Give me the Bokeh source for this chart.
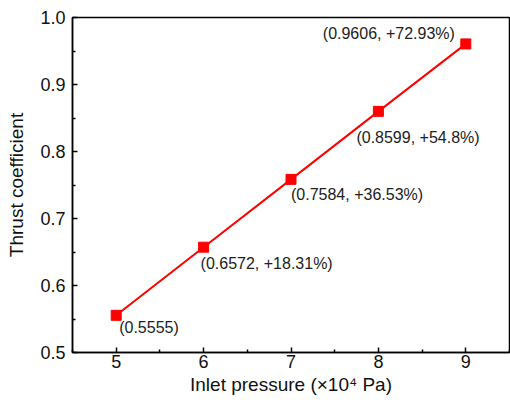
from bokeh.plotting import figure
from bokeh.models import ColumnDataSource, FixedTicker, Range1d, NumeralTickFormatter
from bokeh.core.properties import value
from bokeh.embed import file_html
from bokeh.resources import INLINE

pressure = [5, 6, 7, 8, 9]
thrust = [0.5555, 0.6572, 0.7584, 0.8599, 0.9606]
labels = ["(0.5555)", "(0.6572, +18.31%)", "(0.7584, +36.53%)", "(0.8599, +54.8%)", "(0.9606, +72.93%)"]
x_ticks = [5, 6, 7, 8, 9]
y_ticks = [0.5, 0.6, 0.7, 0.8, 0.9, 1.0]

# label offsets in screen pixels (style)
dx = [3, -3, 0, -22, -143]
dy = [12, 16, 15, 26, -10]

FONT = "Liberation Sans"

p = figure(width=510, height=405, output_backend="svg", toolbar_location=None,
           x_range=Range1d(4.5, 9.5), y_range=Range1d(0.5, 1.0),
           min_border_left=72, min_border_right=1, min_border_top=17, min_border_bottom=53)

src = ColumnDataSource(dict(x=pressure, y=thrust, t=labels, dx=dx, dy=dy))
p.line("x", "y", source=src, line_color="#ff0000", line_width=2)
p.scatter("x", "y", source=src, marker="square", size=10, fill_color="#ff0000", line_color="#ff0000")
p.text("x", "y", text="t", source=src, x_offset="dx", y_offset="dy",
       text_font=value(FONT), text_font_size="16px", text_color="#222222",
       text_baseline="middle", text_align="left")

p.grid.visible = False
p.outline_line_color = "black"
p.outline_line_width = 1.5
p.background_fill_color = "white"
p.border_fill_color = "white"

p.xaxis.ticker = FixedTicker(ticks=x_ticks, minor_ticks=[4.5, 5.5, 6.5, 7.5, 8.5, 9.5])
p.yaxis.ticker = FixedTicker(ticks=y_ticks, minor_ticks=[0.55, 0.65, 0.75, 0.85, 0.95])
p.xaxis.formatter = NumeralTickFormatter(format="0")
p.yaxis.formatter = NumeralTickFormatter(format="0.0")
p.xaxis.axis_label = "Inlet pressure (×10⁴ Pa)"
p.yaxis.axis_label = "Thrust coefficient"

for ax in (p.xaxis, p.yaxis):
    ax.axis_line_width = 1.5
    ax.axis_line_color = "black"
    ax.major_tick_in = 5
    ax.major_tick_out = 0
    ax.minor_tick_in = 3
    ax.minor_tick_out = 0
    ax.major_tick_line_width = 1.5
    ax.minor_tick_line_width = 1.5
    ax.major_tick_line_color = "black"
    ax.minor_tick_line_color = "black"
    ax.major_label_text_font = FONT
    ax.major_label_text_font_size = "18px"
    ax.major_label_text_color = "#111111"
    ax.axis_label_text_font = FONT
    ax.axis_label_text_font_size = "19px"
    ax.axis_label_text_font_style = "normal"
    ax.axis_label_text_color = "#111111"

p.xaxis.major_label_standoff = 2
p.xaxis.axis_label_standoff = 3
p.yaxis.major_label_standoff = 7
p.yaxis.axis_label_standoff = 10

open("out.html", "w").write(file_html(p, INLINE))
